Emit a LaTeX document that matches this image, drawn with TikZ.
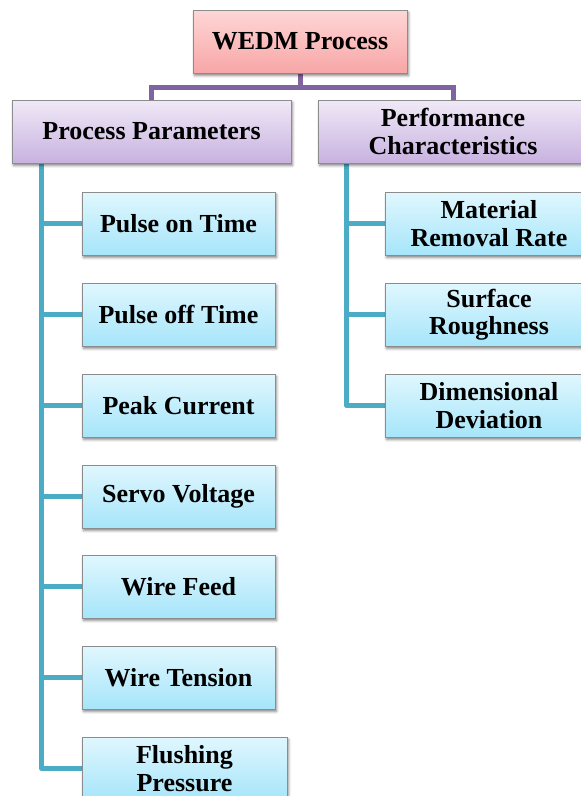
\documentclass[tikz,border=0pt]{standalone}
\usepackage{fontspec}
\setmainfont{Liberation Serif}
\usetikzlibrary{shadows.blur,backgrounds}

\definecolor{boxline}{HTML}{8C8C8C}
\definecolor{rootTop}{HTML}{FFD6D6}
\definecolor{rootBot}{HTML}{F7A6A6}
\definecolor{grpTop}{HTML}{F0E9F7}
\definecolor{grpBot}{HTML}{C8B2E0}
\definecolor{leafTop}{HTML}{E0F7FE}
\definecolor{leafBot}{HTML}{A6E5FA}
\definecolor{purpleLink}{HTML}{8064A2}
\definecolor{tealLink}{HTML}{4BACC6}

\tikzset{
  box/.style={draw=boxline, line width=0.8pt, minimum height=63pt,
    inner sep=2pt, align=center,
    font=\fontsize{26}{27.5}\selectfont\bfseries,
    blur shadow={shadow xshift=1.5pt, shadow yshift=-2.5pt,
      shadow blur radius=2.5pt, shadow opacity=50}},
  rootbox/.style={box, top color=rootTop, bottom color=rootBot},
  groupbox/.style={box, top color=grpTop, bottom color=grpBot},
  leafbox/.style={box, top color=leafTop, bottom color=leafBot},
  plink/.style={draw=purpleLink, line width=5pt},
  tlink/.style={draw=tealLink, line width=5pt, line join=round},
}

\begin{document}
\begin{tikzpicture}[x=1pt, y=-1pt]
\useasboundingbox (0,0) rectangle (581,796);

% root and the two groups
\node[rootbox, minimum width=214pt] (root) at (300,41.5) {WEDM Process};
\node[groupbox, minimum width=279pt] (pp) at (151.5,131.5) {Process Parameters};
\node[groupbox, minimum width=270pt] (pc) at (453,131.5) {Performance\\Characteristics};

% process parameters
\node[leafbox, minimum width=193pt] (p1) at (178.5,223.5) {Pulse on Time};
\node[leafbox, minimum width=193pt] (p2) at (178.5,314.5) {Pulse off Time};
\node[leafbox, minimum width=193pt] (p3) at (178.5,405.5) {Peak Current};
\node[leafbox, minimum width=193pt] (p4) at (178.5,496.5) {Servo Voltage};
\node[leafbox, minimum width=193pt] (p5) at (178.5,586.5) {Wire Feed};
\node[leafbox, minimum width=193pt] (p6) at (178.5,677.5) {Wire Tension};
\node[leafbox, minimum width=205pt] (p7) at (184.5,768.5) {Flushing\\Pressure};

% performance characteristics
\node[leafbox, minimum width=208pt] (c1) at (489,223.5) {Material\\Removal Rate};
\node[leafbox, minimum width=208pt] (c2) at (489,314.5) {Surface\\Roughness};
\node[leafbox, minimum width=208pt] (c3) at (489,405.5) {Dimensional\\Deviation};

\begin{scope}[on background layer]
% links from the root
\draw[plink] (root.south) -- ++(0,14) coordinate (bar);
\draw[plink] (bar) -| (pp.north);
\draw[plink] (bar) -| (pc.north);

% links to the parameters
\coordinate (ppx) at ([xshift=30pt]pp.south west);
\foreach \n in {p1,p2,p3,p4,p5,p6,p7}
  \draw[tlink] (ppx) |- (\n.west);

% links to the characteristics
\coordinate (pcx) at ([xshift=29pt]pc.south west);
\foreach \n in {c1,c2,c3}
  \draw[tlink] (pcx) |- (\n.west);
\end{scope}
\end{tikzpicture}
\end{document}
